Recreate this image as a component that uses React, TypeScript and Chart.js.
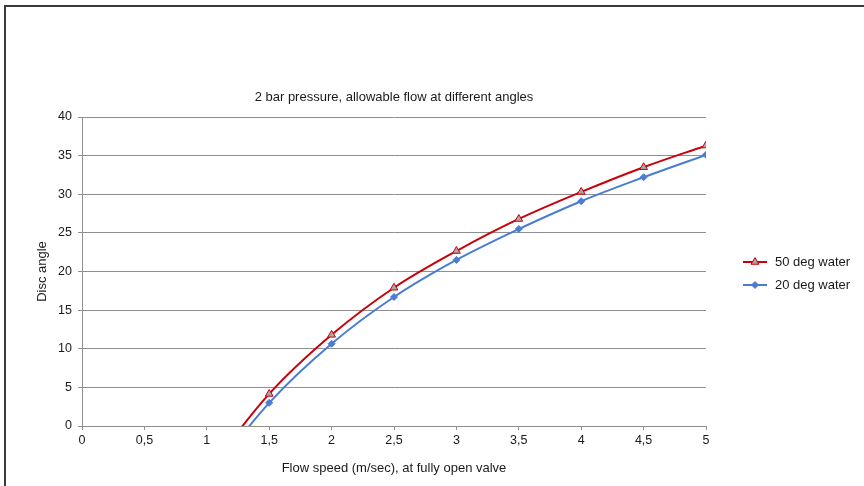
import React, { useEffect, useRef } from "react";
import { Chart, registerables } from "chart.js";
import { drawPoint } from "chart.js/helpers";

Chart.register(...registerables);

const xValues = [1, 1.5, 2, 2.5, 3, 3.5, 4, 4.5, 5];
const water50 = [-6, 4.15, 11.8, 17.9, 22.65, 26.8, 30.3, 33.5, 36.3];
const water20 = [-7, 3.0, 10.65, 16.7, 21.5, 25.5, 29.1, 32.2, 35.1];
const seriesLabels = ["50 deg water", "20 deg water"];
const chartTitle = "2 bar pressure, allowable flow at different angles";
const xTitle = "Flow speed (m/sec), at fully open valve";
const yTitle = "Disc angle";

const FONT = "'Liberation Sans', Arial, Helvetica, sans-serif";
const TEXT = "#1a1a1a";
const GRID = "#8f8f8f";

const legendPlugin = {
  id: "sideLegend",
  afterDraw(chart: any) {
    const ctx = chart.ctx;
    const area = chart.chartArea;
    ctx.save();
    chart.data.datasets.forEach((ds: any, i: number) => {
      const y = 262 + i * 23;
      const x0 = area.right + 37;
      const x1 = x0 + 24;
      ctx.strokeStyle = ds.borderColor;
      ctx.lineWidth = 2;
      ctx.beginPath();
      ctx.moveTo(x0, y);
      ctx.lineTo(x1, y);
      ctx.stroke();
      ctx.fillStyle = ds.pointBackgroundColor;
      ctx.strokeStyle = ds.pointBorderColor;
      ctx.lineWidth = ds.pointBorderWidth;
      drawPoint(ctx, { pointStyle: ds.pointStyle, radius: ds.pointRadius, borderWidth: ds.pointBorderWidth, rotation: 0 }, (x0 + x1) / 2, y);
      ctx.fillStyle = TEXT;
      ctx.font = `13px ${FONT}`;
      ctx.textBaseline = "middle";
      ctx.textAlign = "left";
      ctx.fillText(ds.label, x1 + 8, y);
    });
    ctx.restore();
  },
};

const fmt = (v: any) => String(v).replace(".", ",");

export default function App() {
  const ref = useRef<HTMLCanvasElement>(null);
  useEffect(() => {
    if (!ref.current) return;
    const chart = new Chart(ref.current, {
      type: "line",
      data: {
        datasets: [
          {
            label: seriesLabels[0],
            data: xValues.map((x, i) => ({ x, y: water50[i] })),
            borderColor: "#c8000a",
            borderWidth: 2,
            pointStyle: "triangle",
            pointRadius: 4.5,
            pointBackgroundColor: "#a8a8a8",
            pointBorderColor: "#c8000a",
            pointBorderWidth: 1,
            tension: 0.35,
            fill: false,
            clip: 0,
          } as any,
          {
            label: seriesLabels[1],
            data: xValues.map((x, i) => ({ x, y: water20[i] })),
            borderColor: "#4a7dd2",
            borderWidth: 2,
            pointStyle: "rectRot",
            pointRadius: 3.5,
            pointBackgroundColor: "#4a7dd2",
            pointBorderColor: "#4a7dd2",
            pointBorderWidth: 1,
            tension: 0.35,
            fill: false,
            clip: 0,
          } as any,
        ],
      },
      options: {
        animation: false,
        responsive: false,
        layout: { padding: { top: 89.2, right: 158, left: 0, bottom: 0 } },
        plugins: {
          legend: { display: false },
          tooltip: { enabled: false },
          title: {
            display: true,
            text: chartTitle,
            fullSize: false,
            color: TEXT,
            font: { family: FONT, size: 13, weight: "normal" },
            padding: { top: 0, bottom: 12.2 },
          },
        },
        scales: {
          x: {
            type: "linear",
            min: 0,
            max: 5,
            afterFit: (s: any) => { s.height = 60; },
            ticks: { stepSize: 0.5, callback: fmt, color: TEXT, font: { family: FONT, size: 12.5 }, padding: 3.5, maxRotation: 0 },
            grid: { drawOnChartArea: false, drawTicks: true, tickLength: 4, color: GRID },
            border: { color: GRID, width: 1 },
            title: { display: true, text: xTitle, color: TEXT, font: { family: FONT, size: 13 }, padding: { top: 4, bottom: 10.2 } },
          },
          y: {
            min: 0,
            max: 40,
            afterFit: (s: any) => { s.width = 82; },
            ticks: { stepSize: 5, color: TEXT, font: { family: FONT, size: 12.5 }, padding: 6 },
            grid: { color: GRID, tickLength: 4, drawTicks: true },
            border: { color: GRID, width: 1 },
            title: { display: true, text: yTitle, color: TEXT, font: { family: FONT, size: 13 }, padding: { top: 34.2, bottom: 0 } },
          },
        },
      },
      plugins: [legendPlugin],
    });
    return () => chart.destroy();
  }, []);
  return (
    <div style={{ position: "fixed", left: 0, top: 0, width: 864, height: 486, background: "#fff", overflow: "hidden" }}>
      <div style={{ position: "absolute", left: 4, top: 5, width: 900, height: 600, borderTop: "2px solid #3a3a3a", borderLeft: "2px solid #3a3a3a" }} />
      <canvas ref={ref} width={864} height={486} style={{ position: "absolute", left: 0, top: 0 }} />
    </div>
  );
}
